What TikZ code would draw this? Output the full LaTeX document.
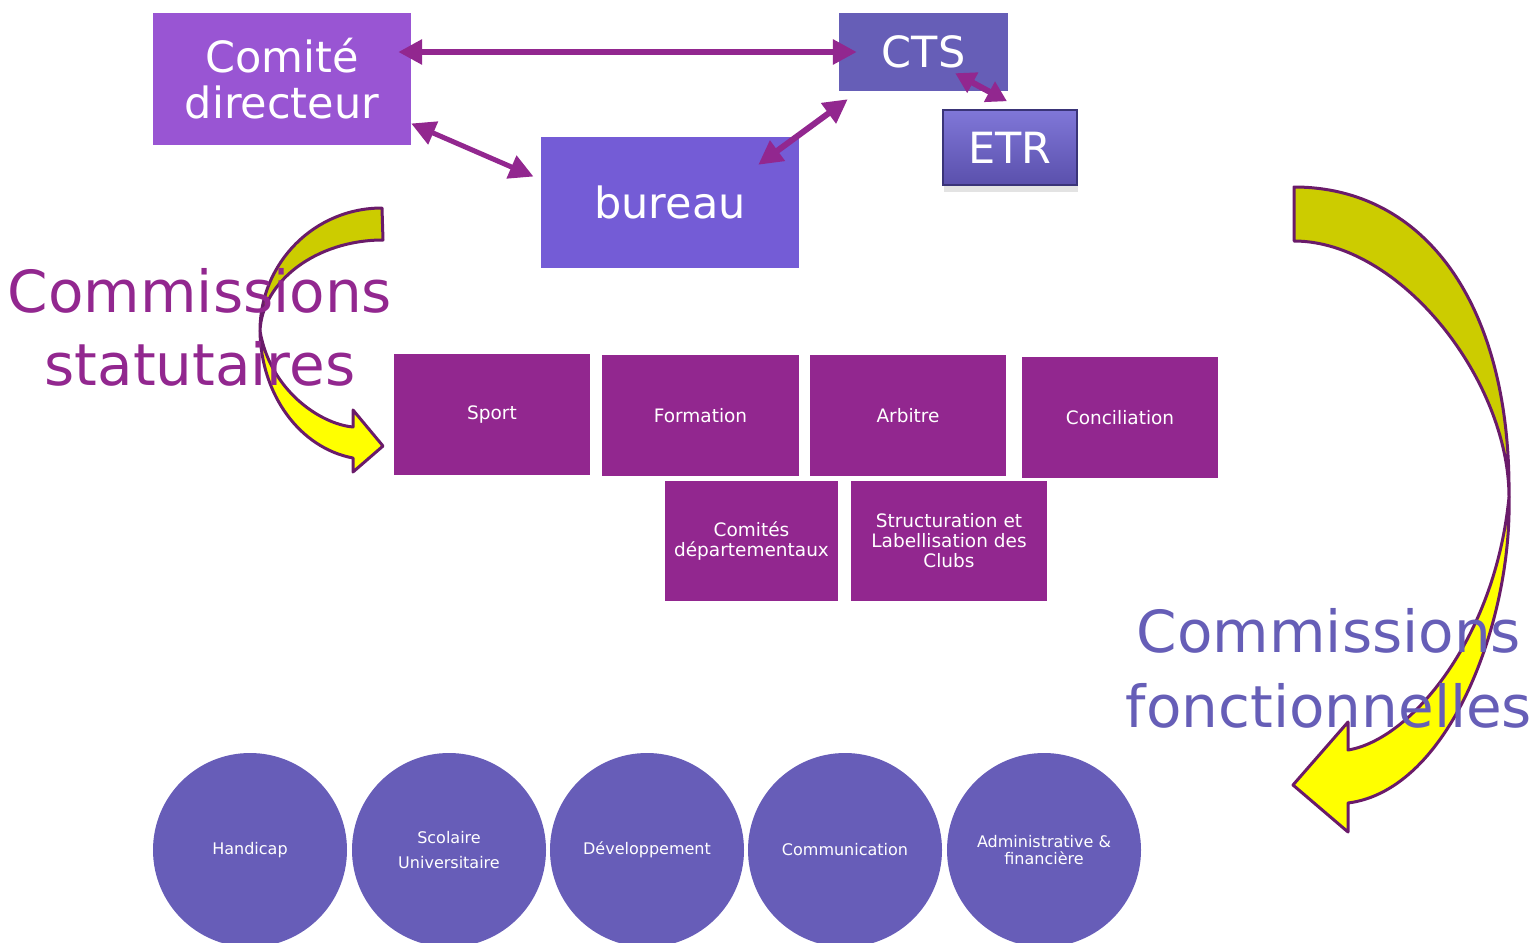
\documentclass[tikz,border=0pt]{standalone}
\usepackage{fontspec}
\setmainfont{DejaVu Sans}
\usetikzlibrary{arrows.meta,calc,shadows}

\definecolor{comcol}{HTML}{9955D3}
\definecolor{burcol}{HTML}{745CD6}
\definecolor{ctscol}{HTML}{665EB7}
\definecolor{magcol}{HTML}{92278F}
\definecolor{circol}{HTML}{675DB8}
\definecolor{rimcol}{HTML}{6A1B6A}
\definecolor{olivecol}{HTML}{CCCC00}
\definecolor{yelcol}{HTML}{FFFF00}
\definecolor{etrtop}{HTML}{8077D8}
\definecolor{etrbot}{HTML}{5A50AC}
\definecolor{etrrim}{HTML}{3A3478}

\tikzset{
  bigbox/.style={fill=#1, text=white, align=center, inner sep=0pt, font=\fontsize{43}{46}\selectfont},
  etrbox/.style={top color=etrtop, bottom color=etrbot, draw=etrrim, line width=1.5pt, text=white, inner sep=0pt,
    font=\fontsize{43}{46}\selectfont, drop shadow={opacity=0.22, shadow xshift=1pt, shadow yshift=-7pt}},
  combox/.style={fill=magcol, text=white, align=center, inner sep=0pt, minimum width=196pt, minimum height=121pt,
    font=\fontsize{18.5}{20}\selectfont},
  comcircle/.style={circle, fill=circol, text=white, align=center, inner sep=0pt, minimum size=194pt,
    font=\fontsize{16}{#1}\selectfont},
  comcircle/.default=17,
  link/.style={draw=magcol, line width=6pt, {Triangle[length=24pt,width=24pt]}-{Triangle[length=24pt,width=24pt]}},
  turnarrow/.style={draw=rimcol, line width=3pt, line join=round},
  bigtext/.style={anchor=base, font=\fontsize{58}{73}\selectfont}
}

\begin{document}
\begin{tikzpicture}[x=1pt, y=-1pt]

\useasboundingbox (0,0) rectangle (1536,942);
\clip (0,0) rectangle (1536,942);

% Top boxes
\node[bigbox=comcol, minimum width=258pt, minimum height=132pt] (com) at (282,79) {Comité\\directeur};
\node[bigbox=ctscol, minimum width=169pt, minimum height=78pt] (cts) at (923.5,52) {CTS};
\node[bigbox=burcol, minimum width=258pt, minimum height=131pt] (bur) at (670,202.5) {bureau};
\node[etrbox, minimum width=134pt, minimum height=75pt] (etr) at (1010,147.5) {ETR};

% Links
\draw[link, shorten <=-13pt, shorten >=-18pt] (com.east |- cts.west) -- (cts.west);
\draw[link, line width=5pt, shorten >=8pt] (com.-19) -- (bur.170);
\draw[link] ($(bur.north east)+(-41,28)$) -- ($(cts.south west)+(9,8)$);
\draw[draw=magcol, line width=6pt, {Triangle[length=20pt,width=22pt]}-{Triangle[length=20pt,width=22pt]}]
  ($(cts.south east)+(-53,-18)$) -- ($(etr.north)+(-3,-8)$);

% Left turning arrow
\filldraw[turnarrow, fill=yelcol] (260,331) .. controls (261,395) and (300,448) .. (353,458) -- (353,472) -- (383,446)
  -- (353,410) -- (353,427) .. controls (320,424) and (270,390) .. (260,331) -- cycle;
\filldraw[turnarrow, fill=olivecol] (382,208) .. controls (314.6,208) and (260,262.6) .. (260,331)
  .. controls (262,281.6) and (316.2,240) .. (383,240) -- cycle;

% Statutory commissions
\node[bigtext, text=magcol] (statA) at (200,312) {Commissions};
\node[bigtext, text=magcol] (statB) at (200,385) {statutaires};

\node[combox] (sport) at (492,414.5) {Sport};
\node[combox, minimum width=197pt] (form) at (700.5,415.5) {Formation};
\node[combox] (arb) at (908,415.5) {Arbitre};
\node[combox] (conc) at (1120,417.5) {Conciliation};
\node[combox, minimum width=173pt, minimum height=120pt] (cdep) at (751.5,541) {Comités\\départementaux};
\node[combox, minimum height=120pt] (struct) at (949,541) {Structuration et\\Labellisation des\\Clubs};

% Right turning arrow
\filldraw[turnarrow, fill=yelcol] (1509,497) .. controls (1512,620) and (1450,790) .. (1348,803) -- (1348,832) -- (1293,785)
  -- (1348,722) -- (1348,750) .. controls (1410,740) and (1495,640) .. (1509,497) -- cycle;
\filldraw[turnarrow, fill=olivecol] (1294,187) .. controls (1425,187) and (1511,305) .. (1509,497)
  .. controls (1509,380) and (1400,241) .. (1294,241) -- cycle;

% Functional commissions
\node[bigtext, text=ctscol] (fonA) at (1329,652) {Commissions};
\node[bigtext, text=ctscol] (fonB) at (1329,727) {fonctionnelles};

\node[comcircle] (hand) at (250,850) {Handicap};
\node[comcircle=25] (scol) at (449,850) {Scolaire\\Universitaire};
\node[comcircle] (dev) at (647,850) {Développement};
\node[comcircle] (comm) at (845,850) {Communication};
\node[comcircle] (admin) at (1044,850) {Administrative \&\\financière};

\end{tikzpicture}
\end{document}
